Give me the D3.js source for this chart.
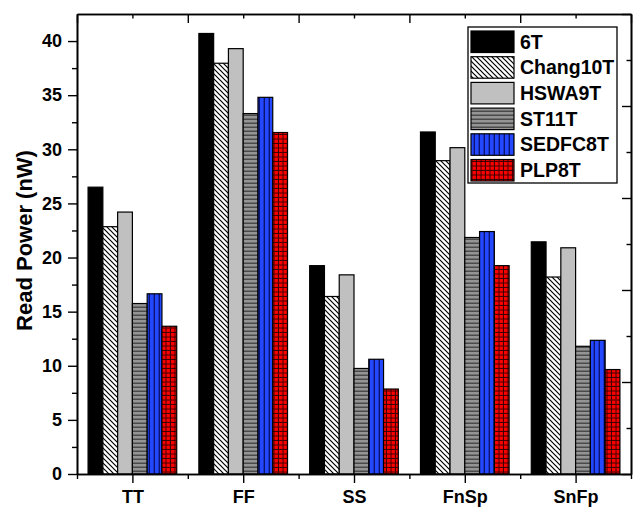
<!DOCTYPE html>
<html>
<head>
<meta charset="utf-8">
<script src="https://cdn.jsdelivr.net/npm/d3@7"></script>
<style>
  html, body { margin: 0; padding: 0; background: #fff; }
  svg { display: block; }
  text { font-family: "Liberation Sans", Arial, sans-serif; font-weight: bold; fill: #000; }
</style>
</head>
<body>
<svg id="chart" width="634" height="507"></svg>
<script>
// Process corners and the read power of each SRAM cell (nW)
const corners = ["TT", "FF", "SS", "FnSp", "SnFp"];
const cells = ["6T", "Chang10T", "HSWA9T", "ST11T", "SEDFC8T", "PLP8T"];
const power6T       = [26.5, 40.7, 19.25, 31.6, 21.45];
const powerChang10T = [22.85, 37.95, 16.4, 28.95, 18.2];
const powerHSWA9T   = [24.2, 39.3, 18.4, 30.15, 20.9];
const powerST11T    = [15.75, 33.3, 9.75, 21.85, 11.8];
const powerSEDFC8T  = [16.65, 34.8, 10.6, 22.4, 12.35];
const powerPLP8T    = [13.65, 31.55, 7.85, 19.25, 9.65];
const yTicks = [0, 5, 10, 15, 20, 25, 30, 35, 40];
const yTitle = "Read Power (nW)";

const series = [power6T, powerChang10T, powerHSWA9T, powerST11T, powerSEDFC8T, powerPLP8T];

const svg = d3.select("#chart");
const plotL = 77, plotR = 631, plotT = 14, plotB = 474;

const x = d3.scaleLinear().domain([0.5, 5.5]).range([plotL, plotR]);
const y = d3.scaleLinear().domain([0, 42.5]).range([plotB, plotT]);
const xTop = d3.scaleLinear().domain([0, 5]).range([plotL, plotR]);
const yRight = d3.scaleLinear().domain([0, 50]).range([plotB, plotT]);

// Fill patterns
const defs = svg.append("defs");
function pattern(id, w, h, bg) {
  const p = defs.append("pattern").attr("id", id)
    .attr("patternUnits", "userSpaceOnUse").attr("width", w).attr("height", h);
  p.append("rect").attr("width", w).attr("height", h).attr("fill", bg);
  return p;
}
pattern("hatch", 5, 5, "#fff").append("path")
  .attr("d", "M-1,-1 L6,6 M-1,4 L1,6 M4,-1 L6,1")
  .attr("stroke", "#000").attr("stroke-width", 1.2);
pattern("hstripe", 4, 4, "#949494").append("rect")
  .attr("x", 0).attr("y", 2.5).attr("width", 4).attr("height", 1.5).attr("fill", "#4a4a4a");
pattern("vstripe", 5, 5, "#2448ff").append("rect")
  .attr("x", 3.6).attr("y", 0).attr("width", 1.4).attr("height", 5).attr("fill", "#0a1470");
const grid = pattern("grid", 4.5, 4.5, "#ff0000");
grid.append("rect").attr("x", 3.5).attr("y", 0).attr("width", 1).attr("height", 4.5).attr("fill", "#3a0000");
grid.append("rect").attr("x", 0).attr("y", 3.5).attr("width", 4.5).attr("height", 1).attr("fill", "#3a0000");

const fills = ["#000000", "url(#hatch)", "#c0c0c0", "url(#hstripe)", "url(#vstripe)", "url(#grid)"];

// Bars
const groupWidth = 0.8;
const barW = groupWidth / cells.length;
series.forEach((vals, si) => {
  svg.append("g").selectAll("rect").data(vals).join("rect")
    .attr("x", (d, i) => x(i + 1 - groupWidth / 2 + si * barW))
    .attr("width", x(barW) - x(0))
    .attr("y", d => y(d))
    .attr("height", d => y(0) - y(d))
    .attr("fill", fills[si])
    .attr("stroke", "#000").attr("stroke-width", 1.2);
});

// Axes frame
function styleAxis(g) {
  g.select(".domain").attr("stroke-width", 1.6);
  g.selectAll(".tick line").attr("stroke-width", 1.4);
}
function styleLabels(g) {
  g.selectAll("text").attr("font-size", 18)
    .style("font-family", "Liberation Sans, Arial, sans-serif").style("font-weight", "bold");
}
svg.append("g").attr("transform", `translate(${plotL},0)`)
  .call(d3.axisLeft(y).tickValues(yTicks).tickSize(9).tickPadding(6).tickSizeOuter(0))
  .call(styleAxis).call(styleLabels);
svg.append("g").attr("transform", `translate(${plotL},0)`)
  .call(d3.axisLeft(y).tickValues(d3.range(2.5, 42.5, 5)).tickSize(5).tickFormat("").tickSizeOuter(0))
  .call(styleAxis);

svg.append("g").attr("transform", `translate(0,${plotB})`)
  .call(d3.axisBottom(x).tickValues(d3.range(1, 6)).tickFormat(d => corners[d - 1]).tickSize(9).tickPadding(7).tickSizeOuter(0))
  .call(styleAxis).call(styleLabels);
svg.append("g").attr("transform", `translate(0,${plotB})`)
  .call(d3.axisBottom(x).tickValues(d3.range(0.5, 6, 1)).tickSize(5).tickFormat("").tickSizeOuter(0))
  .call(styleAxis);

svg.append("g").attr("transform", `translate(0,${plotT})`)
  .call(d3.axisTop(xTop).tickValues(d3.range(0, 6)).tickSize(-9).tickFormat("").tickSizeOuter(0))
  .call(styleAxis);
svg.append("g").attr("transform", `translate(0,${plotT})`)
  .call(d3.axisTop(xTop).tickValues(d3.range(0.5, 5, 1)).tickSize(-4.5).tickFormat("").tickSizeOuter(0))
  .call(styleAxis);

svg.append("g").attr("transform", `translate(${plotR},0)`)
  .call(d3.axisRight(yRight).tickValues(d3.range(0, 51, 10)).tickSize(-9).tickFormat("").tickSizeOuter(0))
  .call(styleAxis);
svg.append("g").attr("transform", `translate(${plotR},0)`)
  .call(d3.axisRight(yRight).tickValues(d3.range(5, 50, 10)).tickSize(-4.5).tickFormat("").tickSizeOuter(0))
  .call(styleAxis);

// Y axis title
svg.append("text")
  .attr("transform", "translate(32,240.5) rotate(-90)")
  .attr("text-anchor", "middle")
  .attr("font-size", 22)
  .text(yTitle);

// Legend
const lg = svg.append("g");
lg.append("rect").attr("x", 468).attr("y", 27).attr("width", 149).attr("height", 156)
  .attr("fill", "#fff").attr("stroke", "#000").attr("stroke-width", 1.3);
const rowStep = 25.7;
cells.forEach((name, i) => {
  const ry = 31 + i * rowStep;
  lg.append("rect").attr("x", 471).attr("y", ry).attr("width", 43).attr("height", 21.5)
    .attr("fill", fills[i]).attr("stroke", "#000").attr("stroke-width", 1.2);
  lg.append("text").attr("x", 520).attr("y", ry + 17.5).attr("font-size", 19.5).text(name);
});
</script>
</body>
</html>
